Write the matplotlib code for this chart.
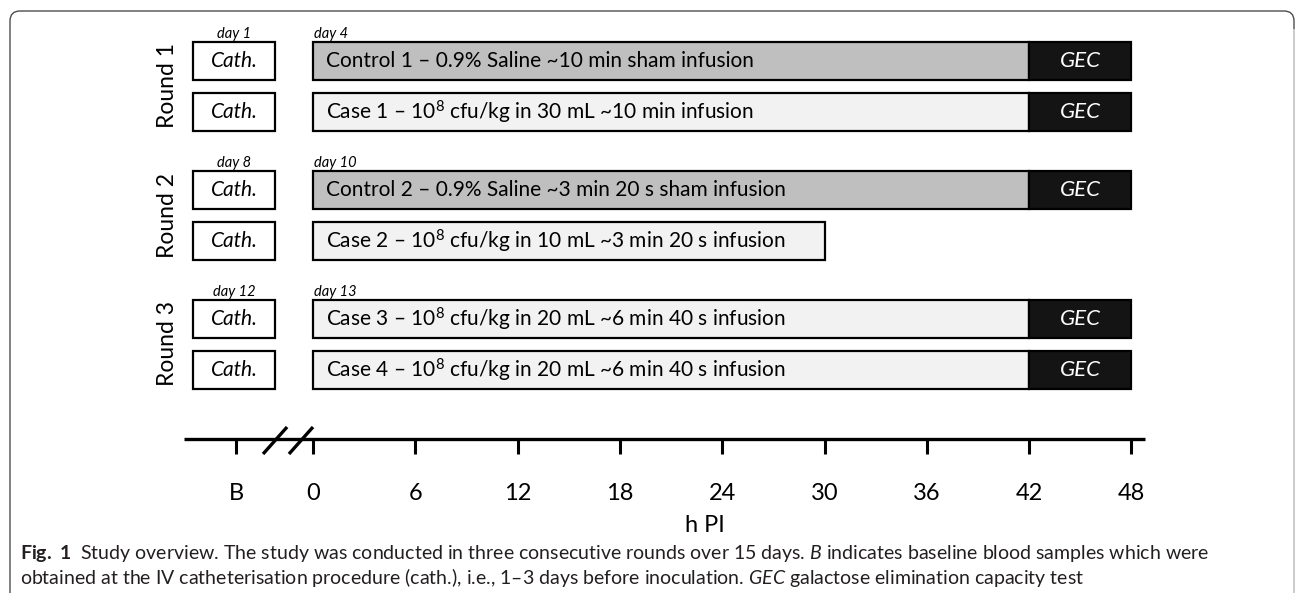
import matplotlib.pyplot as plt
from matplotlib.patches import FancyBboxPatch

plt.rcParams["font.family"] = ["Lato", "DejaVu Sans"]
plt.rcParams["mathtext.fontset"] = "custom"
plt.rcParams["mathtext.rm"] = "Lato"
plt.rcParams["mathtext.it"] = "Lato:italic"
plt.rcParams["mathtext.bf"] = "Lato:bold"

# data
rounds = ["Round 1", "Round 2", "Round 3"]
cath_days = ["day 1", "day 8", "day 12"]
infusion_days = ["day 4", "day 10", "day 13"]
groups = [
    "Control 1 – 0.9% Saline ~10 min sham infusion",
    "Case 1 – 10$^{8}$ cfu/kg in 30 mL ~10 min infusion",
    "Control 2 – 0.9% Saline ~3 min 20 s sham infusion",
    "Case 2 – 10$^{8}$ cfu/kg in 10 mL ~3 min 20 s infusion",
    "Case 3 – 10$^{8}$ cfu/kg in 20 mL ~6 min 40 s infusion",
    "Case 4 – 10$^{8}$ cfu/kg in 20 mL ~6 min 40 s infusion",
]
is_control = [True, False, True, False, False, False]
followup_end = [42, 42, 42, 30, 42, 42]   # h PI
has_gec = [True, True, True, False, True, True]
gec_start, gec_end = 42, 48
tick_hours = [0, 6, 12, 18, 24, 30, 36, 42, 48]
baseline_pos = -4.5
cath_box = (-7.05, -2.2)

fig = plt.figure(figsize=(12.95, 5.93), dpi=100)

# frame around figure
deco = fig.add_axes([0, 0, 1, 1], zorder=-1)
deco.set_xlim(0, 1295)
deco.set_ylim(593, 0)
deco.axis("off")
deco.add_patch(FancyBboxPatch((10, 11), 1284, 700,
                              boxstyle="round,pad=0,rounding_size=10",
                              fill=False, ec="#4d4d4d", lw=1.0))
deco.plot([1294, 1294], [30, 593], color="#d4d4d4", lw=1.3)

ax = fig.add_axes([0, 0, 1, 1])
px0, px_per_h = 313, 17.05
ax.set_xlim(-px0 / px_per_h, (1295 - px0) / px_per_h)
ax.set_ylim(593, 0)
ax.axis("off")

bar_h = 38
lw = 1.6
for i, label in enumerate(groups):
    r, s = divmod(i, 2)
    y = 61 + 129 * r + 51 * s
    ax.barh(y, cath_box[1] - cath_box[0], left=cath_box[0], height=bar_h,
            color="white", edgecolor="black", lw=lw)
    ax.text(sum(cath_box) / 2, y, "Cath.", style="italic", fontsize=15,
            ha="center", va="center")
    ax.barh(y, followup_end[i], left=0, height=bar_h,
            color="#bfbfbf" if is_control[i] else "#f2f2f2",
            edgecolor="black", lw=lw)
    ax.annotate(label, xy=(0, y), xytext=(9.5, 0), textcoords="offset points",
                fontsize=15, ha="left", va="center")
    if has_gec[i]:
        ax.barh(y, gec_end - gec_start, left=gec_start, height=bar_h,
                color="#141414", edgecolor="black", lw=lw)
        ax.text((gec_start + gec_end) / 2, y, "GEC", style="italic",
                fontsize=16, color="white", ha="center", va="center")
    if s == 0:
        ax.text(sum(cath_box) / 2, y - bar_h / 2 - 4, cath_days[r],
                style="italic", fontsize=10.5, ha="center", va="baseline")
        ax.annotate(infusion_days[r], xy=(0, y - bar_h / 2 - 4),
                    xytext=(1, 0), textcoords="offset points",
                    style="italic", fontsize=10.5, ha="left", va="baseline")
        ax.annotate(rounds[r], xy=(cath_box[0], y + 25), xytext=(-18, 0),
                    textcoords="offset points", rotation=90, fontsize=16.5,
                    ha="center", va="center")

# time axis
axis_y = 439
ax.plot([-7.57, 48.8], [axis_y, axis_y], color="black", lw=2.4,
        solid_capstyle="butt")
for h in [baseline_pos] + tick_hours:
    ax.plot([h, h], [axis_y, axis_y + 15], color="black", lw=2.2,
            solid_capstyle="butt")
for h0 in [-2.93, -1.41]:
    ax.plot([h0, h0 + 1.41], [axis_y + 15, axis_y - 12], color="black",
            lw=2.4, solid_capstyle="butt")
ax.text(baseline_pos, 493, "B", fontsize=17, ha="center", va="center")
for h in tick_hours:
    ax.text(h, 493, str(h), fontsize=17, ha="center", va="center")
ax.text(23, 526, "h PI", fontsize=17, ha="center", va="center")

# caption
cap1 = (r"$\mathbf{Fig.\ 1}$  Study overview. The study was conducted in three "
        r"consecutive rounds over 15 days. $\mathit{B}$ indicates baseline "
        r"blood samples which were")
cap2 = (r"obtained at the IV catheterisation procedure (cath.), i.e., 1–3 days "
        r"before inoculation. $\mathit{GEC}$ galactose elimination capacity test")
deco.text(20, 559, cap1, fontsize=14, color="#231f20", va="baseline")
deco.text(20, 584, cap2, fontsize=14, color="#231f20", va="baseline")

fig.savefig("out.png", dpi=100)
